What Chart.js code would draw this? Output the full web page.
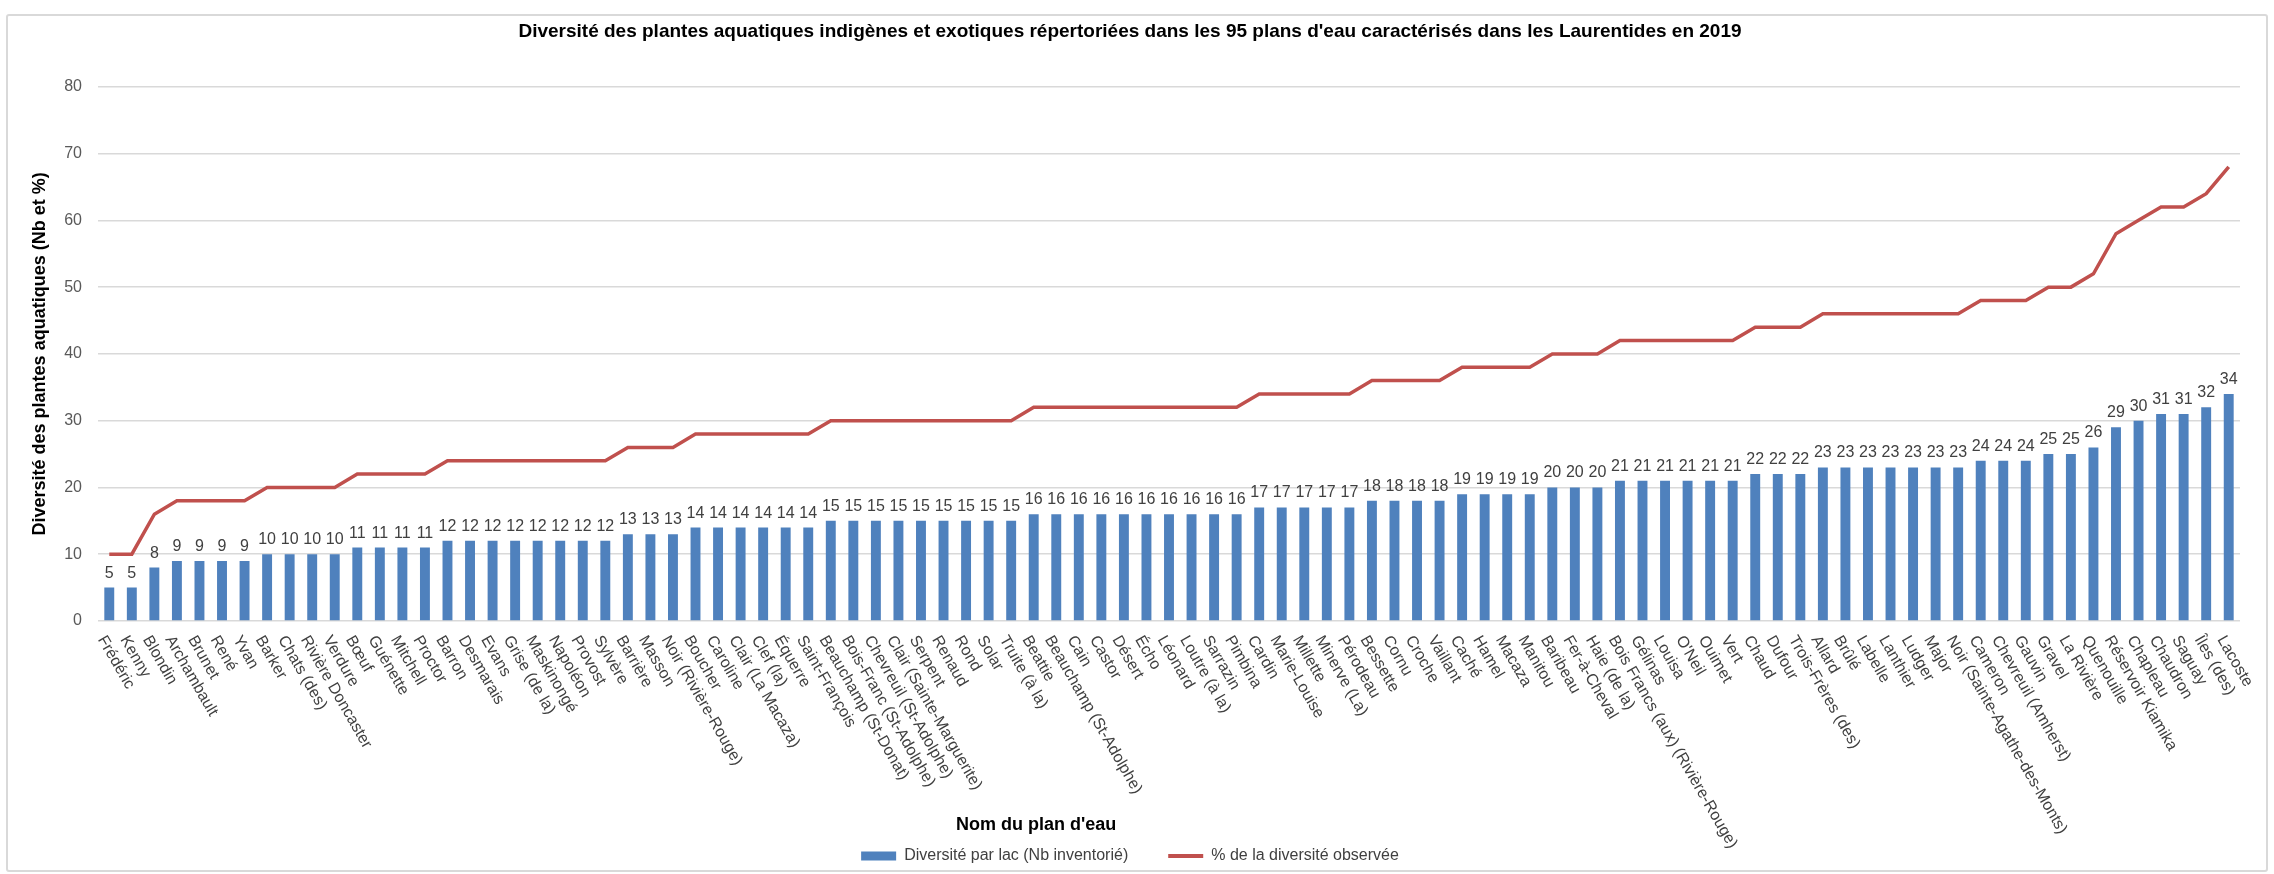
<!DOCTYPE html>
<html>
<head>
<meta charset="utf-8">
<script src="https://cdn.jsdelivr.net/npm/chart.js@4.4.1/dist/chart.umd.min.js"></script>
<style>
  html, body { margin: 0; padding: 0; background: #fff; }
  #wrap { position: relative; width: 2274px; height: 874px; }
  #frame { position: absolute; left: 6px; top: 14px; width: 2262px; height: 858px; border: 2px solid #d9d9d9; border-radius: 3px; box-sizing: border-box; pointer-events: none; }
  canvas { position: absolute; left: 0; top: 0; }
</style>
</head>
<body>
<div id="wrap">
  <canvas id="chart" width="2274" height="874"></canvas>
  <div id="frame"></div>
</div>
<script>
// Noms des plans d'eau (axe X)
const lakes = [
  "Frédéric", "Kenny", "Blondin", "Archambault", "Brunet", "René", "Yvan", "Barker", "Chats (des)", "Rivière Doncaster",
  "Verdure", "Bœuf", "Guénette", "Mitchell", "Proctor", "Barron", "Desmarais", "Evans", "Grise (de la)", "Maskinongé",
  "Napoléon", "Provost", "Sylvère", "Barrière", "Masson", "Noir (Rivière-Rouge)", "Boucher", "Caroline", "Clair (La Macaza)", "Clef (la)",
  "Équerre", "Saint-François", "Beauchamp (St-Donat)", "Bois-Franc (St-Adolphe)", "Chevreuil (St-Adolphe)", "Clair (Sainte-Marguerite)", "Serpent", "Renaud", "Rond", "Solar",
  "Truite (à la)", "Beattie", "Beauchamp (St-Adolphe)", "Cain", "Castor", "Désert", "Écho", "Léonard", "Loutre (à la)", "Sarrazin",
  "Pimbina", "Cardin", "Marie-Louise", "Millette", "Minerve (La)", "Pérodeau", "Bessette", "Cornu", "Croche", "Vaillant",
  "Caché", "Hamel", "Macaza", "Manitou", "Baribeau", "Fer-à-Cheval", "Haie (de la)", "Bois Francs (aux) (Rivière-Rouge)", "Gélinas", "Louisa",
  "O'Neil", "Ouimet", "Vert", "Chaud", "Dufour", "Trois-Frères (des)", "Allard", "Brûlé", "Labelle", "Lanthier",
  "Ludger", "Major", "Noir (Sainte-Agathe-des-Monts)", "Cameron", "Chevreuil (Amherst)", "Gauvin", "Gravel", "La Rivière", "Quenouille", "Réservoir Kiamika",
  "Chapleau", "Chaudron", "Saguay", "Îles (des)", "Lacoste"
];

// Diversité par lac (Nb inventorié)
const nbInventorie = [
  5, 5, 8, 9, 9, 9, 9, 10, 10, 10,
  10, 11, 11, 11, 11, 12, 12, 12, 12, 12,
  12, 12, 12, 13, 13, 13, 14, 14, 14, 14,
  14, 14, 15, 15, 15, 15, 15, 15, 15, 15,
  15, 16, 16, 16, 16, 16, 16, 16, 16, 16,
  16, 17, 17, 17, 17, 17, 18, 18, 18, 18,
  19, 19, 19, 19, 20, 20, 20, 21, 21, 21,
  21, 21, 21, 22, 22, 22, 23, 23, 23, 23,
  23, 23, 23, 24, 24, 24, 25, 25, 26, 29,
  30, 31, 31, 32, 34
];

// % de la diversité observée
const pctDiversite = [
  10, 10, 16, 18, 18, 18, 18, 20, 20, 20,
  20, 22, 22, 22, 22, 24, 24, 24, 24, 24,
  24, 24, 24, 26, 26, 26, 28, 28, 28, 28,
  28, 28, 30, 30, 30, 30, 30, 30, 30, 30,
  30, 32, 32, 32, 32, 32, 32, 32, 32, 32,
  32, 34, 34, 34, 34, 34, 36, 36, 36, 36,
  38, 38, 38, 38, 40, 40, 40, 42, 42, 42,
  42, 42, 42, 44, 44, 44, 46, 46, 46, 46,
  46, 46, 46, 48, 48, 48, 50, 50, 52, 58,
  60, 62, 62, 64, 68
];

const FONT = '"Liberation Sans", Arial, sans-serif';

// Étiquettes de valeurs, noms inclinés et titre de l'axe X
const customLabels = {
  id: 'customLabels',
  afterDatasetsDraw(chart) {
    const ctx = chart.ctx;
    const xScale = chart.scales.x;
    const bottom = chart.chartArea.bottom;
    ctx.save();

    ctx.font = '16px ' + FONT;
    ctx.fillStyle = '#404040';
    ctx.textAlign = 'center';
    ctx.textBaseline = 'alphabetic';
    chart.getDatasetMeta(0).data.forEach((bar, i) => {
      ctx.fillText(String(nbInventorie[i]), bar.x, bar.y - 10);
    });

    ctx.textAlign = 'left';
    ctx.textBaseline = 'middle';
    lakes.forEach((name, i) => {
      const x = xScale.getPixelForValue(i);
      ctx.save();
      ctx.translate(x - 8, bottom + 16);
      ctx.rotate(Math.PI / 3);
      ctx.fillText(name, 0, 0);
      ctx.restore();
    });

    ctx.font = 'bold 18px ' + FONT;
    ctx.fillStyle = '#000';
    ctx.textAlign = 'center';
    ctx.fillText("Nom du plan d'eau", xScale.left + xScale.width * 0.438, bottom + 204);
    ctx.restore();
  }
};

const ctx = document.getElementById('chart').getContext('2d');

new Chart(ctx, {
  type: 'bar',
  data: {
    labels: lakes,
    datasets: [
      {
        label: 'Diversité par lac (Nb inventorié)',
        data: nbInventorie,
        backgroundColor: '#4F81BD',
        borderWidth: 0,
        barPercentage: 0.44,
        categoryPercentage: 1,
        pointStyle: 'rect'
      },
      {
        type: 'line',
        label: '% de la diversité observée',
        data: pctDiversite,
        borderColor: '#C0504D',
        backgroundColor: '#C0504D',
        borderWidth: 3.5,
        tension: 0,
        fill: false,
        pointRadius: 0,
        pointHoverRadius: 0,
        pointStyle: 'line',
        pointBorderColor: '#C0504D',
        pointBorderWidth: 4
      }
    ]
  },
  options: {
    responsive: false,
    animation: false,
    devicePixelRatio: 1,
    layout: { padding: { left: 20, right: 34, top: 0, bottom: 0 } },
    scales: {
      x: {
        grid: { display: false },
        border: { display: false },
        ticks: { display: false },
        afterFit(scale) { scale.height = 187; }
      },
      y: {
        min: 0,
        max: 80,
        ticks: { stepSize: 10, padding: 16, color: '#595959', font: { family: FONT, size: 16 } },
        grid: { color: '#D9D9D9', lineWidth: 1.5, drawTicks: false },
        border: { display: false },
        title: {
          display: true,
          text: 'Diversité des plantes aquatiques (Nb et %)',
          color: '#000',
          font: { family: FONT, size: 18, weight: 'bold' },
          padding: { top: 9, bottom: 0 }
        },
        afterFit(scale) { scale.width = 78; }
      }
    },
    plugins: {
      title: {
        display: true,
        text: "Diversité des plantes aquatiques indigènes et exotiques répertoriées dans les 95 plans d'eau caractérisés dans les Laurentides en 2019",
        color: '#000',
        font: { family: FONT, size: 19, weight: 'bold' },
        padding: { top: 20, bottom: 44 }
      },
      legend: {
        position: 'bottom',
        labels: {
          usePointStyle: true,
          pointStyleWidth: 35,
          boxHeight: 9,
          padding: 40,
          color: '#404040',
          font: { family: FONT, size: 16 }
        }
      },
      tooltip: { enabled: false }
    }
  },
  plugins: [customLabels]
});
</script>
</body>
</html>
